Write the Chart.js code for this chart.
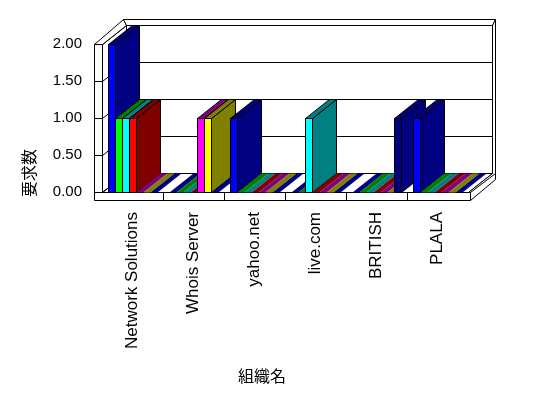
<!DOCTYPE html>
<html>
<head>
<meta charset="utf-8">
<script src="https://cdn.jsdelivr.net/npm/chart.js@4/dist/chart.umd.min.js"></script>
<style>
  body { margin: 0; background: #fff; }
</style>
</head>
<body>
<canvas id="graphique" width="548" height="398"></canvas>
<script>
// Catégories (organisations) et séries
const categories = ["Network Solutions", "Whois Server", "yahoo.net", "live.com", "BRITISH", "PLALA"];
const seriesNames = ["系列1", "系列2", "系列3", "系列4", "系列5", "系列6", "系列7"];
const serie1 = [2, 0, 1, 0, 0, 1];
const serie2 = [1, 0, 0, 0, 0, 0];
const serie3 = [1, 0, 0, 1, 0, 0];
const serie4 = [1, 0, 0, 0, 0, 0];
const serie5 = [0, 1, 0, 0, 0, 0];
const serie6 = [0, 1, 0, 0, 0, 0];
const serie7 = [0, 0, 0, 0, 1, 0];
const yTicks = [0, 0.5, 1, 1.5, 2];

const titreY = "要求数";
const titreX = "組織名";

// Couleurs : face avant et faces côté / dessus
const couleursFace = ["#0000ff", "#00ff00", "#00ffff", "#ff0000", "#ff00ff", "#ffff00", "#000080"];
const couleursCote = ["#000080", "#008000", "#008080", "#800000", "#800080", "#808000", "#000080"];

const series = [serie1, serie2, serie3, serie4, serie5, serie6, serie7];

// décalage de profondeur (effet 3D)
const DX = 24, DY = -19;

function poly(ctx, pts, fill, stroke) {
    ctx.beginPath();
    ctx.moveTo(pts[0][0], pts[0][1]);
    for (let i = 1; i < pts.length; i++) ctx.lineTo(pts[i][0], pts[i][1]);
    ctx.closePath();
    if (fill) { ctx.fillStyle = fill; ctx.fill(); }
    if (stroke) { ctx.strokeStyle = stroke; ctx.lineWidth = 1; ctx.stroke(); }
}

function ligne(ctx, x1, y1, x2, y2) {
    ctx.beginPath();
    ctx.moveTo(x1, y1);
    ctx.lineTo(x2, y2);
    ctx.stroke();
}

const plugin3D = {
    id: "plugin3D",
    beforeDatasetsDraw(chart) {
        const ctx = chart.ctx;
        const a = chart.chartArea;
        const ys = chart.scales.y;
        const xs = chart.scales.x;
        const L = Math.round(a.left) + 0.5, R = Math.round(a.right) + 0.5;
        const T = Math.round(a.top) + 0.5, B = Math.round(a.bottom) + 0.5;
        ctx.save();
        ctx.strokeStyle = "#000";
        ctx.lineWidth = 1;

        // mur du fond
        poly(ctx, [[L + DX, T + DY], [R + DX, T + DY], [R + DX, B + DY], [L + DX, B + DY]], "#fff", "#000");
        // mur de gauche (face intérieure)
        poly(ctx, [[L, T], [L + DX, T + DY], [L + DX, B + DY], [L, B]], "#fff", "#000");
        // sol
        poly(ctx, [[L, B], [R, B], [R + DX, B + DY], [L + DX, B + DY]], "#fff", "#000");

        // lignes de quadrillage
        for (const v of yTicks) {
            const y = Math.round(ys.getPixelForValue(v)) + 0.5;
            ligne(ctx, L, y, L + DX, y + DY);
            ligne(ctx, L + DX, y + DY, R + DX, y + DY);
        }

        // épaisseur des murs (contour extérieur)
        const W = 8;
        poly(ctx, [[L - W, T], [L, T], [L, B], [R + 2, B], [R + 2, B + W], [L - W, B + W]], "#fff", "#000");
        poly(ctx, [[L - W, T], [L, T], [L + DX, T + DY], [L + DX - 3, T + DY - 6]], "#fff", "#000");
        poly(ctx, [[L + DX - 3, T + DY - 6], [R + DX + 3, T + DY - 6], [R + DX, T + DY], [L + DX, T + DY]], "#fff", "#000");
        poly(ctx, [[R + DX, T + DY], [R + DX + 3, T + DY - 6], [R + DX + 3, B + DY + 6], [R + 2, B + W], [R + 2, B], [R, B], [R + DX, B + DY]], "#fff", "#000");
        ligne(ctx, R + 2, B, R + DX + 3, B + DY);
        // graduations sur le mur de gauche
        for (const v of yTicks) {
            const y = Math.round(ys.getPixelForValue(v)) + 0.5;
            ligne(ctx, L - W, y, L, y);
        }
        // graduations sur le sol (séparation des catégories)
        for (let k = 1; k < categories.length; k++) {
            const x = Math.round((xs.getPixelForTick(k - 1) + xs.getPixelForTick(k)) / 2) + 0.5;
            ligne(ctx, x, B, x, B + W);
        }

        // barres, de gauche à droite pour l'ordre de recouvrement
        const barres = [];
        chart.data.datasets.forEach((ds, di) => {
            chart.getDatasetMeta(di).data.forEach((el) => barres.push({ el, di }));
        });
        barres.sort((p, q) => p.el.x - q.el.x);
        for (const { el, di } of barres) {
            const x0 = Math.round(el.x - el.width / 2) + 0.5;
            const x1 = Math.round(el.x + el.width / 2) + 0.5;
            const top = Math.round(el.y) + 0.5;
            const base = Math.round(el.base) + 0.5;
            const cote = couleursCote[di];
            if (base - top < 1) {
                poly(ctx, [[x0, base], [x1, base], [x1 + DX, base + DY], [x0 + DX, base + DY]], cote, null);
                continue;
            }
            poly(ctx, [[x1, top], [x1 + DX, top + DY], [x1 + DX, base + DY], [x1, base]], cote, "#000");
            poly(ctx, [[x0, top], [x1, top], [x1 + DX, top + DY], [x0 + DX, top + DY]], cote, "#000");
            poly(ctx, [[x0, top], [x1, top], [x1, base], [x0, base]], couleursFace[di], "#000");
        }
        ctx.restore();
        return false;
    },
    afterDraw(chart) {
        const ctx = chart.ctx;
        ctx.save();
        ctx.fillStyle = "#000";
        ctx.font = "16px 'Noto Sans CJK JP'";
        ctx.textAlign = "center";
        ctx.textBaseline = "middle";
        ctx.fillText(titreX, 262, 376);
        ctx.translate(29, 173);
        ctx.rotate(-Math.PI / 2);
        ctx.fillText(titreY, 0, 0);
        ctx.restore();
    }
};

const data = {
    labels: categories,
    datasets: series.map((s, i) => ({
        label: seriesNames[i],
        data: s,
        backgroundColor: couleursFace[i],
        borderWidth: 0,
        categoryPercentage: 0.8,
        barPercentage: 1.0
    }))
};

const config = {
    type: "bar",
    data: data,
    options: {
        responsive: false,
        animation: false,
        layout: { padding: { left: 0, top: 44, right: 80, bottom: 0 } },
        plugins: {
            legend: { display: false },
            tooltip: { enabled: false }
        },
        scales: {
            x: {
                grid: { display: false, drawTicks: false },
                border: { display: false },
                ticks: {
                    color: "#000",
                    font: { family: "'Liberation Sans', Arial", size: 17 },
                    minRotation: 90,
                    maxRotation: 90,
                    padding: 20,
                    autoSkip: false
                },
                afterFit(scale) { scale.height = 206; }
            },
            y: {
                min: 0,
                max: 2,
                grid: { display: false, drawTicks: false },
                border: { display: false },
                ticks: {
                    stepSize: 0.5,
                    color: "#000",
                    font: { family: "'Liberation Sans', Arial", size: 15 },
                    padding: 20,
                    callback: (v) => v.toFixed(2)
                },
                afterFit(scale) { scale.width = 102; }
            }
        }
    },
    plugins: [plugin3D]
};

const graphique = new Chart(document.querySelector("#graphique"), config);
</script>
</body>
</html>
